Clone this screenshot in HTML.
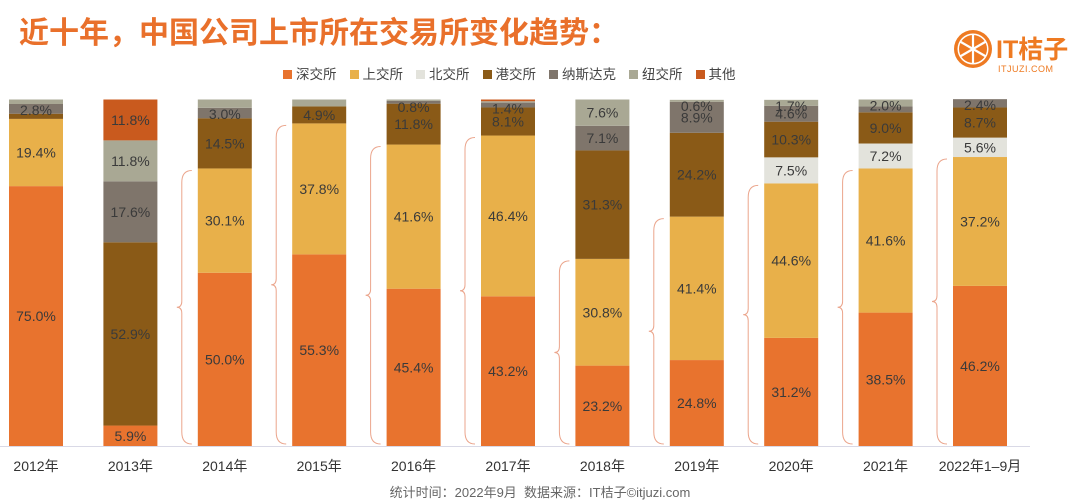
<!DOCTYPE html>
<html><head><meta charset="utf-8">
<style>
html,body{margin:0;padding:0;background:#fff;}
body{width:1080px;height:500px;overflow:hidden;position:relative;font-family:"Liberation Sans","Noto Sans CJK SC",sans-serif;}
#title{position:absolute;left:19px;top:8px;font-size:30px;font-weight:bold;color:#E9702B;letter-spacing:0px;}
#legend{position:absolute;left:283px;top:63px;font-size:13.5px;color:#444;display:flex;gap:13px;}
#legend span i{display:inline-block;width:9px;height:9px;margin-right:4px;vertical-align:0px;}
#logo{position:absolute;left:950px;top:28px;width:130px;height:50px;}
#logo .t{position:absolute;left:46px;top:2px;font-size:25px;color:#EE7A22;font-weight:bold;}
#logo .s{position:absolute;left:48px;top:36px;font-size:9px;color:#EE7A22;letter-spacing:0.5px;}
#footer{position:absolute;left:0;width:1080px;top:482px;text-align:center;font-size:13px;color:#666;}
svg#chart{position:absolute;left:0;top:0;}
</style></head><body>
<div id="title">近十年，中国公司上市所在交易所变化趋势：</div>
<div id="legend">
<span><i style="background:#E8732E"></i>深交所</span>
<span><i style="background:#E8B04A"></i>上交所</span>
<span><i style="background:#E3E3DC"></i>北交所</span>
<span><i style="background:#8A5A17"></i>港交所</span>
<span><i style="background:#7F756B"></i>纳斯达克</span>
<span><i style="background:#A9A894"></i>纽交所</span>
<span><i style="background:#C95A1E"></i>其他</span>
</div>
<div id="logo">
<svg width="44" height="44" style="position:absolute;left:3px;top:1px">
<circle cx="20" cy="20" r="19" fill="#EE7A22"/>
<circle cx="20" cy="20" r="15.5" fill="#fff"/>
<circle cx="20" cy="20" r="14" fill="#EE7A22"/>
<g stroke="#fff" stroke-width="2.2">
<line x1="20" y1="5" x2="20" y2="35"/><line x1="7" y1="12.5" x2="33" y2="27.5"/><line x1="7" y1="27.5" x2="33" y2="12.5"/></g>
</svg>
<div class="t">IT桔子</div><div class="s">ITJUZI.COM</div>
</div>
<svg id="chart" width="1080" height="500"></svg>
<div id="footer">统计时间：2022年9月&nbsp;&nbsp;数据来源：IT桔子©itjuzi.com</div>
<script>
const categories=["2012年","2013年","2014年","2015年","2016年","2017年","2018年","2019年","2020年","2021年","2022年1–9月"];
const shenzhen=[75.0,5.9,50.0,55.3,45.4,43.2,23.2,24.8,31.2,38.5,46.2];
const shanghai=[19.4,0,30.1,37.8,41.6,46.4,30.8,41.4,44.6,41.6,37.2];
const beijing=[0,0,0,0,0,0,0,0,7.5,7.2,5.6];
const hongkong=[1.5,52.9,14.5,4.9,11.8,8.1,31.3,24.2,10.3,9.0,8.7];
const nasdaq=[2.8,17.6,3.0,0,0.8,1.4,7.1,8.9,4.6,1.7,2.4];
const nyse=[1.3,11.8,2.4,2.0,0.4,0.4,7.6,0.6,1.7,2.0,0];
const other=[0,11.8,0,0,0,0.5,0,0,0,0,0];
const seriesNames=["shenzhen","shanghai","beijing","hongkong","nasdaq","nyse","other"];
const seriesColors=["#E8732E","#E8B04A","#E3E3DC","#8A5A17","#7F756B","#A9A894","#C95A1E"];
const series=[shenzhen,shanghai,beijing,hongkong,nasdaq,nyse,other];
const hiddenLabels=["hongkong-0","nyse-0","nyse-2","nyse-3","nyse-4","nyse-5","other-5","nasdaq-9"];

const svg=document.getElementById('chart');
const NS='http://www.w3.org/2000/svg';
const x0=9, step=94.4, bw=54, yTop=99.5, yBot=446;
function xPos(i){return x0+i*step;}
function yScale(v){return yBot-(v/100)*(yBot-yTop);}
function mk(tag,attrs){const e=document.createElementNS(NS,tag);for(const k in attrs)e.setAttribute(k,attrs[k]);svg.appendChild(e);return e;}

categories.forEach((c,i)=>{
  let cum=0;
  const x=xPos(i);
  const szsh=shenzhen[i]+shanghai[i];
  if(szsh>10 && i>0){
    const ya=yScale(szsh)+2, yb=yBot-2, ym=(ya+yb)/2, bx=x-16;
    const p=mk('path',{d:`M${bx+10},${ya} Q${bx},${ya} ${bx},${ya+12} L${bx},${ym-6} Q${bx},${ym} ${bx-5},${ym} Q${bx},${ym} ${bx},${ym+6} L${bx},${yb-12} Q${bx},${yb} ${bx+10},${yb}`,fill:'none',stroke:'#EBA58C','stroke-width':1});
    
    
  }
  series.forEach((s,k)=>{
    const v=s[i];
    if(v<=0)return;
    const y1=yScale(cum+v), y2=yScale(cum);
    const r=mk('rect',{x:x,y:y1,width:bw,height:y2-y1,fill:seriesColors[k]});
    
    
    if(hiddenLabels.indexOf(seriesNames[k]+'-'+i)<0){
      let ty=(y1+y2)/2+5;
      if(y2-y1<14) ty=y1+11;
      const t=mk('text',{x:x+bw/2,y:ty,'text-anchor':'middle','font-size':'14',fill:'#3a3a3a'});
      t.textContent=v.toFixed(1)+'%';
      
      
    }
    cum+=v;
  });
  const lt=mk('text',{x:x+bw/2,y:471,'text-anchor':'middle','font-size':'14',fill:'#333'});
  lt.textContent=c;
  
  
});
const ax=mk('line',{x1:0,y1:yBot+0.5,x2:1030,y2:yBot+0.5,stroke:'#d9d9e6','stroke-width':1});


</script>
</body></html>
